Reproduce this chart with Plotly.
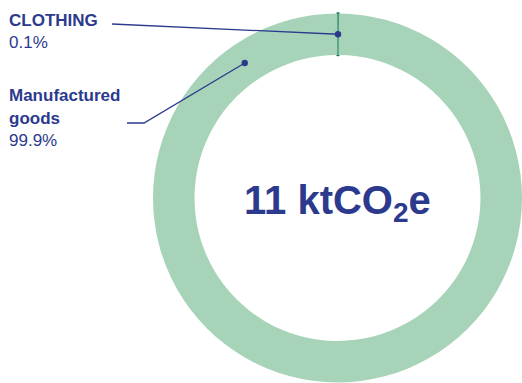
import numpy as np
import plotly.graph_objects as go

# Emission shares by category
categories = ["CLOTHING", "Manufactured goods"]
label_lines = [["CLOTHING"], ["Manufactured", "goods"]]
shares = [0.1, 99.9]
share_labels = ["0.1%", "99.9%"]
total_label = "11 ktCO<sub>2</sub>e"

W, H = 522, 383
NAVY = "#2c3a8e"
LIGHT = "#a7d4b9"
DARK = "#137556"
FONT = "Liberation Sans, Arial, sans-serif"

# donut placement (paper fractions)
dom_x = [153 / W, 1.0]
dom_y = [0.0, 1 - 13 / H]
hole = 0.775

fig = go.Figure(
    go.Pie(
        labels=categories,
        values=shares,
        sort=False,
        direction="clockwise",
        rotation=0,
        hole=hole,
        domain=dict(x=dom_x, y=dom_y),
        marker=dict(colors=[DARK, LIGHT], line=dict(color=[DARK, LIGHT], width=[2.4, 0])),
        textinfo="none",
        hoverinfo="label+percent",
        showlegend=False,
    )
)

# donut geometry in pixels, used to anchor the leader-line dots on the ring
cx = (dom_x[0] + dom_x[1]) / 2 * W
cy = (1 - (dom_y[0] + dom_y[1]) / 2) * H
r_out = min((dom_x[1] - dom_x[0]) * W, (dom_y[1] - dom_y[0]) * H) / 2
r_mid = r_out * (1 + hole) / 2


def ring_point(angle_deg):
    a = np.radians(angle_deg)
    return cx + r_mid * np.sin(a), cy - r_mid * np.cos(a)


def px(x, y):
    return x / W, 1 - y / H


# dot angles (degrees clockwise from 12 o'clock) and label elbows
dot_angles = [shares[0] / 2 / 100 * 360, 325.5]
leader_paths = [
    [(112, 24)],
    [(127, 123), (144, 123)],
]
label_top = [27, 103]
line_gap = 22

shapes = []
annotations = []
for i in range(len(categories)):
    dx, dy = ring_point(dot_angles[i])
    pts = leader_paths[i] + [(dx, dy)]
    path = "M " + " L ".join(f"{px(x, y)[0]:.5f},{px(x, y)[1]:.5f}" for x, y in pts)
    shapes.append(dict(type="path", xref="paper", yref="paper", path=path,
                       line=dict(color=NAVY, width=1.3)))
    shapes.append(dict(type="circle", xref="paper", yref="paper",
                       xsizemode="pixel", ysizemode="pixel",
                       xanchor=px(dx, dy)[0], yanchor=px(dx, dy)[1],
                       x0=-3.2, x1=3.2, y0=-3.2, y1=3.2,
                       fillcolor=NAVY, line=dict(width=0)))

    base = label_top[i]
    lines = [f"<b>{t}</b>" for t in label_lines[i]] + [share_labels[i]]
    for k, t in enumerate(lines):
        bx, by = px(7, base + k * line_gap - 7)
        annotations.append(dict(x=bx, y=by, xref="paper", yref="paper", text=t,
                                showarrow=False, xanchor="left", yanchor="middle",
                                font=dict(family=FONT, size=17, color=NAVY)))

tx, ty = px(cx, 203)
annotations.append(dict(x=tx, y=ty, xref="paper", yref="paper",
                        text=f"<b>{total_label}</b>", showarrow=False,
                        xanchor="center", yanchor="middle",
                        font=dict(family=FONT, size=40, color=NAVY)))

fig.update_layout(
    width=W, height=H,
    margin=dict(l=0, r=0, t=0, b=0),
    paper_bgcolor="white", plot_bgcolor="white",
    shapes=shapes, annotations=annotations,
)

fig.write_html("out.html")
